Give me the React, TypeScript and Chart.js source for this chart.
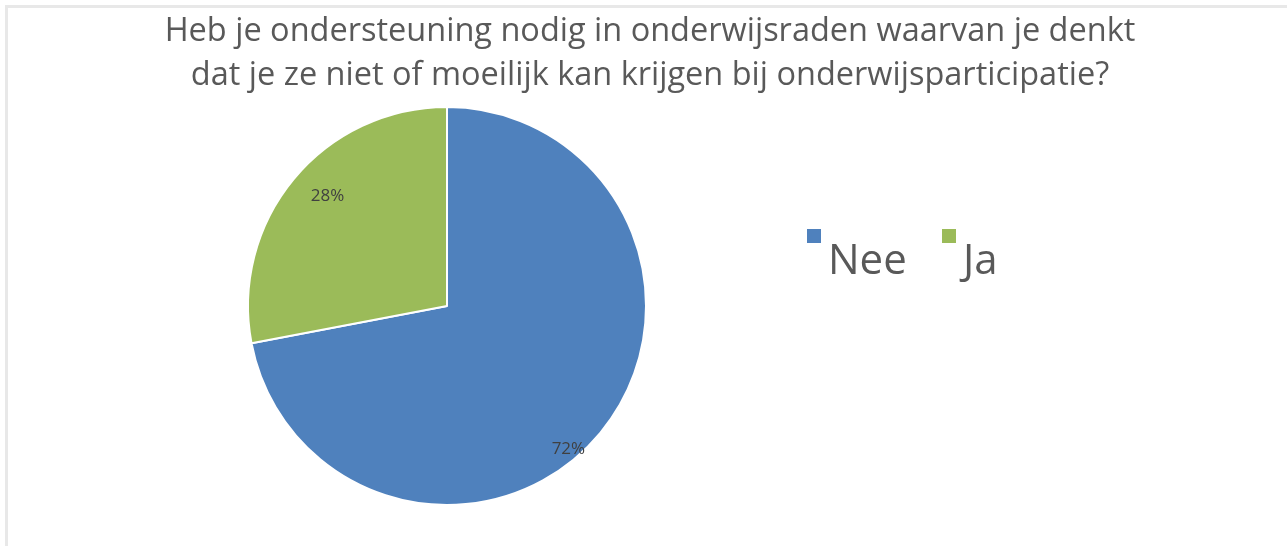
import React, { useEffect, useRef } from "react";
import { Chart, registerables } from "chart.js";

Chart.register(...registerables);

const titleLines = [
  "Heb je ondersteuning nodig in onderwijsraden waarvan je denkt",
  "dat je ze niet of moeilijk kan krijgen bij onderwijsparticipatie?",
];
const categories = ["Nee", "Ja"];
const values = [72, 28];
const sliceColors = ["#4F81BD", "#9BBB59"];
// label placement relative to pie centre, in units of radius (style only)
const labelOffsets = [
  [0.61, 0.72],
  [-0.6, -0.55],
];

const overlay = {
  id: "overlay",
  afterDraw(chart: any) {
    const ctx = chart.ctx;
    const meta = chart.getDatasetMeta(0);
    const ds = chart.data.datasets[0];
    const total = ds.data.reduce((a: number, b: number) => a + b, 0);
    ctx.save();
    // title
    ctx.fillStyle = "#595959";
    ctx.textAlign = "center";
    ctx.textBaseline = "alphabetic";
    ctx.font = "32.5px 'Open Sans', 'Noto Sans', sans-serif";
    titleLines.forEach((line, i) => ctx.fillText(line, 650, 41 + i * 44));
    // data labels
    ctx.font = "17px 'Open Sans', 'Noto Sans', sans-serif";
    ctx.fillStyle = "#404040";
    ctx.textBaseline = "middle";
    meta.data.forEach((arc: any, i: number) => {
      const r = arc.outerRadius;
      const pct = Math.round((ds.data[i] / total) * 100) + "%";
      ctx.fillText(pct, arc.x + labelOffsets[i][0] * r, arc.y + labelOffsets[i][1] * r);
    });
    // legend
    ctx.textAlign = "left";
    ctx.textBaseline = "alphabetic";
    ctx.font = "42px 'Open Sans', 'Noto Sans', sans-serif";
    const legendX = [807, 942];
    chart.data.labels.forEach((lab: string, i: number) => {
      ctx.fillStyle = ds.backgroundColor[i];
      ctx.fillRect(legendX[i], 229, 14, 14);
      ctx.fillStyle = "#595959";
      ctx.fillText(lab, legendX[i] + 21, 274);
    });
    ctx.restore();
  },
};

export default function App() {
  const ref = useRef<HTMLCanvasElement>(null);
  useEffect(() => {
    const chart = new Chart(ref.current!, {
      type: "pie",
      data: {
        labels: categories,
        datasets: [
          {
            data: values,
            backgroundColor: sliceColors,
            borderColor: "#ffffff",
            borderWidth: 2,
          },
        ],
      },
      options: {
        animation: false,
        responsive: false,
        events: [],
        layout: { padding: { top: 106, bottom: 40, left: 247, right: 640 } },
        plugins: {
          legend: { display: false },
          title: { display: false },
          tooltip: { enabled: false },
        },
      },
      plugins: [overlay],
    });
    return () => chart.destroy();
  }, []);
  return (
    <div style={{ position: "fixed", left: 0, top: 0, width: 1287, height: 546, background: "#fff" }}>
      <div
        style={{
          position: "absolute",
          left: 5,
          top: 5,
          right: -10,
          bottom: -10,
          borderTop: "3px solid #e8e8e8",
          borderLeft: "3px solid #e8e8e8",
        }}
      />
      <canvas ref={ref} width={1287} height={546} style={{ position: "absolute", left: 0, top: 0 }} />
    </div>
  );
}
